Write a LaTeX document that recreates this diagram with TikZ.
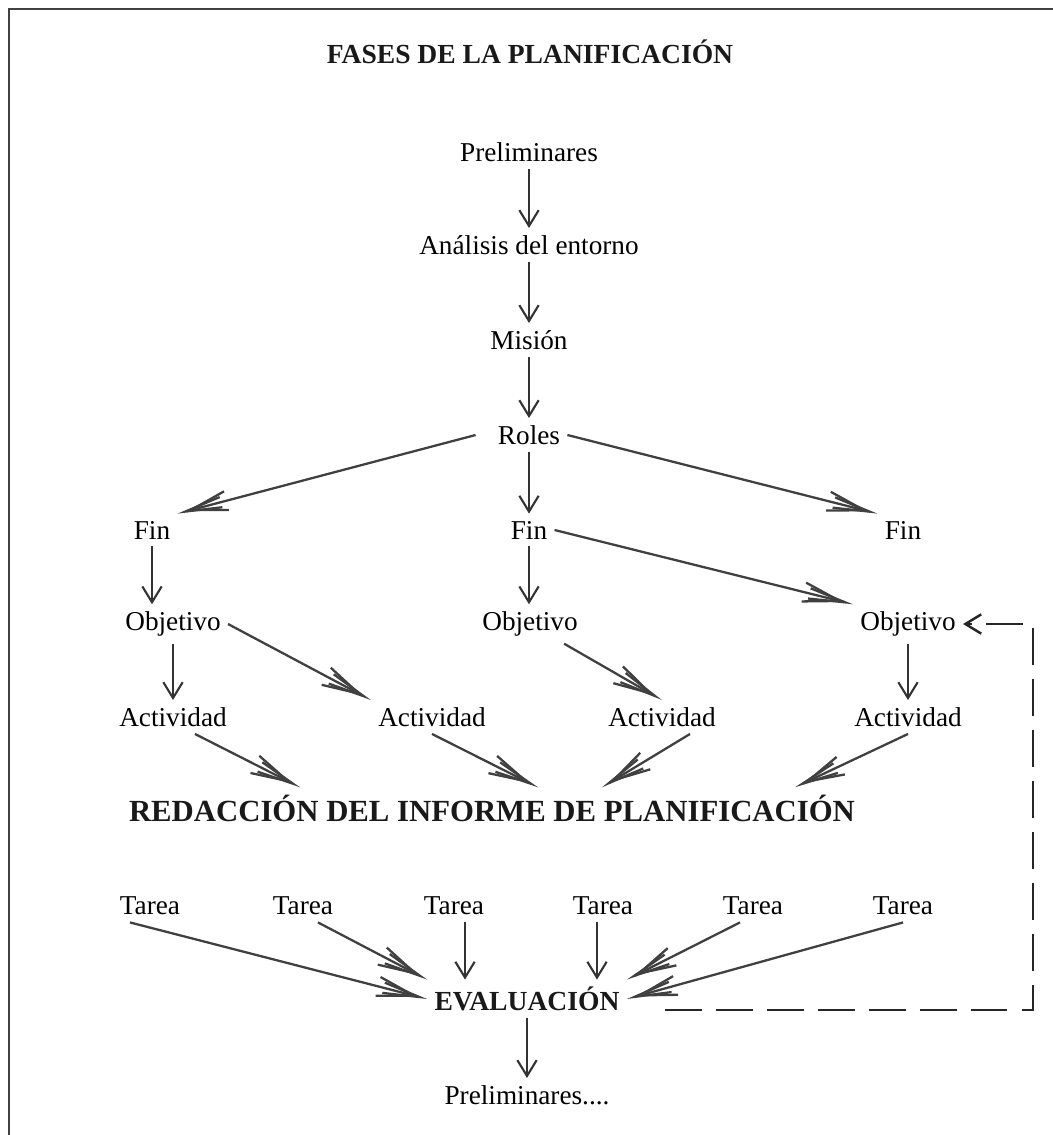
\documentclass[tikz,border=0pt]{standalone}
\usepackage{fontspec}
\setmainfont{Liberation Serif}
\usetikzlibrary{arrows.meta}

\begin{document}
\begin{tikzpicture}[x=0.02cm,y=-0.02cm,
  txt/.style={font=\fontsize{15.5}{18}\selectfont,text=black,inner sep=4pt},
  hdr/.style={font=\bfseries\fontsize{15.7}{18}\selectfont,text=black!90,inner sep=4pt},
  vline/.style={draw=black!80,line width=1.2pt,-{Straight Barb[length=9pt,width=11pt]}},
  sline/.style={draw=black!75,line width=1.3pt,-{Straight Barb[length=21pt,width=11pt,sep=-21pt]Straight Barb[length=21pt,width=6pt]}},
  dline/.style={draw=black!85,line width=1.4pt,dash pattern=on 21pt off 8pt}]
\useasboundingbox (0,0) rectangle (1053,1135);
\draw[line width=1.1pt,black!75] (9,1135) -- (9,9) -- (1053,9);
%
\node[hdr] (tit) at (530,52) {FASES DE LA PLANIFICACIÓN};
\node[txt] (pre) at (529,152) {Preliminares};
\node[txt] (ana) at (529,245) {Análisis del entorno};
\node[txt] (mis) at (529,340) {Misión};
\node[txt] (rol) at (529,435) {Roles};
\node[txt] (finA) at (152,530) {Fin};
\node[txt] (finB) at (529,530) {Fin};
\node[txt] (finC) at (903,530) {Fin};
\node[txt] (objA) at (173,624) {Objetivo};
\node[txt] (objB) at (530,624) {Objetivo};
\node[txt] (objC) at (908,624) {Objetivo};
\node[txt] (actA) at (173,717) {Actividad};
\node[txt] (actB) at (432,717) {Actividad};
\node[txt] (actC) at (662,717) {Actividad};
\node[txt] (actD) at (908,717) {Actividad};
\node[hdr,font=\bfseries\fontsize{17.5}{20}\selectfont] (red) at (492,808) {REDACCIÓN DEL INFORME DE PLANIFICACIÓN};
\node[txt] (tarA) at (150,906) {Tarea};
\node[txt] (tarB) at (303,906) {Tarea};
\node[txt] (tarC) at (454,906) {Tarea};
\node[txt] (tarD) at (603,906) {Tarea};
\node[txt] (tarE) at (753,906) {Tarea};
\node[txt] (tarF) at (903,906) {Tarea};
\node[hdr] (eva) at (527,999) {EVALUACIÓN};
\node[txt] (pre2) at (527,1095) {Preliminares....};
\coordinate (turn) at (1033,1010);
%
\draw[vline] (pre) -- (ana);
\draw[vline] (ana) -- (mis);
\draw[vline] (mis) -- (rol);
\draw[vline] (rol) -- (finB);
\draw[sline] ([xshift=-0.3cm]rol.west) -- (finA.north east);
\draw[sline] (rol.east) -- (finC.north west);
\draw[vline] (finA) -- (finA |- objA.north);
\draw[vline] (finB) -- (finB |- objB.north);
\draw[sline] (finB.east) -- (objC.north west);
\draw[vline] (objA) -- (actA);
\draw[vline] (objC) -- (actD);
\draw[sline] (objA.east) -- (actB.north west);
\draw[sline] (objB.-30) -- (actC.north);
\draw[sline] ([xshift=0.44cm]actA.south) -- ([xshift=-3.84cm]red.north);
\draw[sline] (actB.south) -- ([xshift=0.92cm]red.north);
\draw[sline] ([xshift=0.56cm]actC.south) -- ([xshift=2.2cm]red.north);
\draw[sline] (actD.south) -- ([xshift=6.06cm]red.north);
\draw[sline] ([xshift=-0.4cm]tarA.south) -- (eva.west);
\draw[sline] ([xshift=0.3cm]tarB.south) -- (eva.north west);
\draw[vline] ([xshift=0.22cm]tarC.south) -- ([xshift=0.22cm]tarC.south |- eva.north);
\draw[vline] ([xshift=-0.12cm]tarD.south) -- ([xshift=-0.12cm]tarD.south |- eva.north);
\draw[sline] ([xshift=-0.26cm]tarE.south) -- (eva.north east);
\draw[sline] (tarF.south) -- (eva.east);
\draw[vline] (eva) -- (pre2);
\draw[dline,shorten <=0.76cm,-{Straight Barb[length=9pt,width=11pt]}] (eva.east |- turn) -- (turn) |- (objC.east);
%
\end{tikzpicture}
\end{document}
